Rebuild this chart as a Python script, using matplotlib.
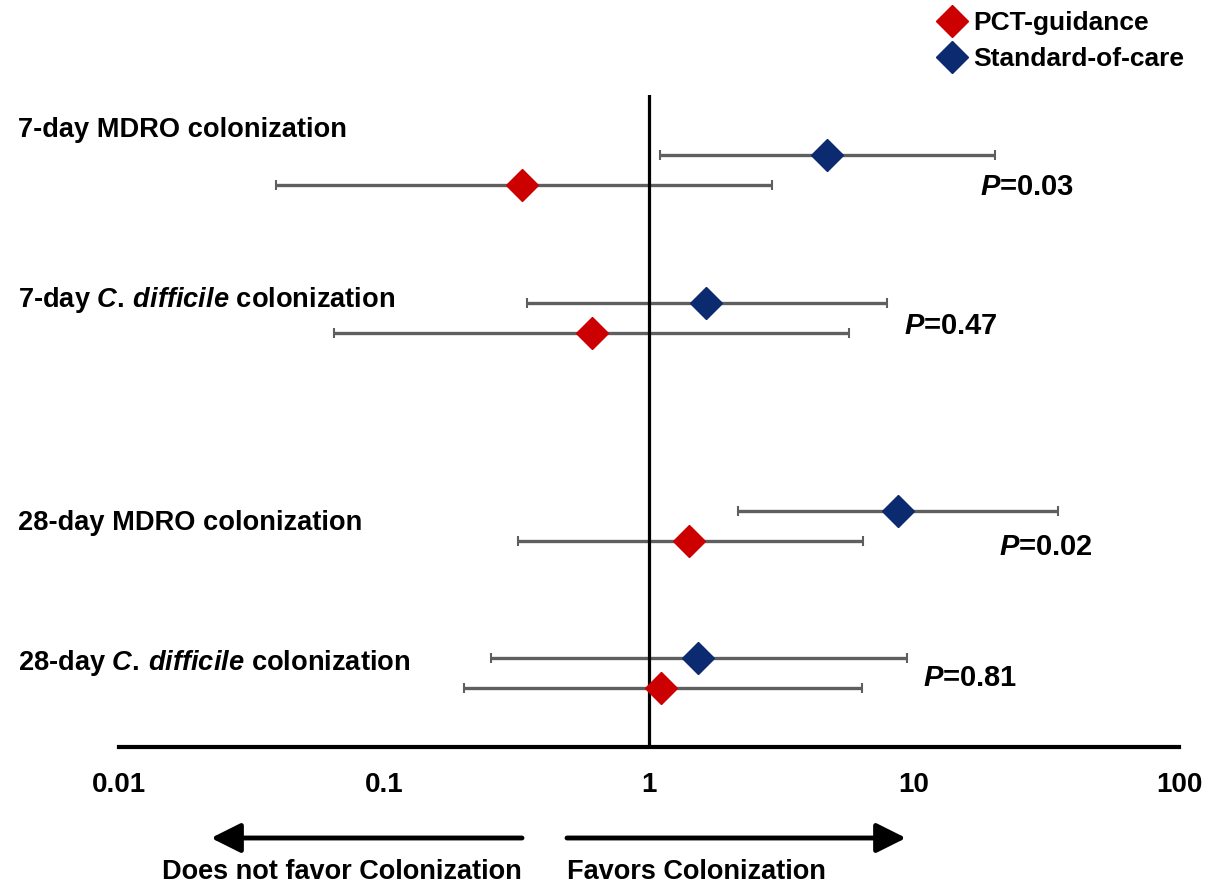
import matplotlib
matplotlib.use("Agg")
import matplotlib.pyplot as plt

# font setup: everything bold Arial-like, italic parts via mathtext
plt.rcParams['font.family'] = ['Liberation Sans', 'DejaVu Sans']
plt.rcParams['font.weight'] = 'bold'
plt.rcParams['mathtext.fontset'] = 'custom'
plt.rcParams['mathtext.rm'] = 'Liberation Sans:bold'
plt.rcParams['mathtext.it'] = 'Liberation Sans:italic:bold'
plt.rcParams['mathtext.bf'] = 'Liberation Sans:bold'

# data (odds ratios with 95% CI)
outcomes = ["7-day MDRO colonization",
            r"7-day $\mathit{C.\,difficile}$ colonization",
            "28-day MDRO colonization",
            r"28-day $\mathit{C.\,difficile}$ colonization"]
pct_or = [0.333, 0.61, 1.42, 1.11]
pct_lo = [0.039, 0.065, 0.32, 0.20]
pct_hi = [2.9, 5.7, 6.4, 6.35]
soc_or = [4.7, 1.64, 8.7, 1.53]
soc_lo = [1.10, 0.345, 2.17, 0.254]
soc_hi = [20.3, 7.9, 34.8, 9.4]
p_values = ["0.03", "0.47", "0.02", "0.81"]
tick_vals = [0.01, 0.1, 1, 10, 100]
tick_labels = ["0.01", "0.1", "1", "10", "100"]

# layout (pixel units of the 1211x893 picture)
W, H = 1211, 893
row_center = [170, 318, 526, 673]
row_gap = 15
label_y = [130, 300, 523, 663]
p_xy = [(980, 187), (904, 326), (999, 547), (923, 678)]

red = '#cc0000'
navy = '#0b2a6f'
grey = '#5f5f5f'


def fig_frac(x, y):
    return x / W, 1 - y / H


fig = plt.figure(figsize=(W / 100, H / 100), dpi=100)
ax = fig.add_axes([119 / W, (H - 747) / H, 1060 / W, 652 / H])
ax.set_xscale('log')
ax.set_xlim(0.01, 100)
ax.set_ylim(747, 95)

y_soc = [c - row_gap for c in row_center]
y_pct = [c + row_gap for c in row_center]

# confidence intervals
ax.errorbar(soc_or, y_soc,
            xerr=[[o - l for o, l in zip(soc_or, soc_lo)], [h - o for o, h in zip(soc_or, soc_hi)]],
            fmt='none', ecolor=grey, elinewidth=2.4, capsize=3.5, capthick=1.5, zorder=2)
ax.errorbar(pct_or, y_pct,
            xerr=[[o - l for o, l in zip(pct_or, pct_lo)], [h - o for o, h in zip(pct_or, pct_hi)]],
            fmt='none', ecolor=grey, elinewidth=2.4, capsize=3.5, capthick=1.5, zorder=2)

ax.axvline(1, color='black', lw=2.3, zorder=3)

ax.plot(pct_or, y_pct, ls='none', marker='D', ms=16, color=red, mec=red, label='PCT-guidance', zorder=4)
ax.plot(soc_or, y_soc, ls='none', marker='D', ms=16, color=navy, mec=navy, label='Standard-of-care', zorder=4)

# axes styling
for s in ['top', 'right', 'left']:
    ax.spines[s].set_visible(False)
ax.spines['bottom'].set_linewidth(3)
ax.set_yticks([])
ax.set_xticks(tick_vals)
ax.set_xticklabels(tick_labels, fontsize=20, fontweight='bold')
ax.xaxis.set_minor_locator(matplotlib.ticker.NullLocator())
ax.tick_params(axis='x', length=0, pad=18)

# row labels
for lab, ly in zip(outcomes, label_y):
    fig.text(*fig_frac(18, ly), lab, fontsize=19.6, fontweight='bold', va='center', ha='left')

# p values
for p, (px, py) in zip(p_values, p_xy):
    fig.text(*fig_frac(px, py), r"$\mathit{P}$=" + p, fontsize=21, fontweight='bold', va='center', ha='left')

# direction arrows
arrow_kw = dict(arrowstyle='-|>,head_length=0.9,head_width=0.45', lw=3.5, color='black',
                shrinkA=0, shrinkB=0)
fig.add_artist(matplotlib.patches.FancyArrowPatch(fig_frac(522, 838), fig_frac(211, 838),
                                                  transform=fig.transFigure, mutation_scale=20, **arrow_kw))
fig.add_artist(matplotlib.patches.FancyArrowPatch(fig_frac(567, 838), fig_frac(906, 838),
                                                  transform=fig.transFigure, mutation_scale=20, **arrow_kw))
fig.text(*fig_frac(522, 872), "Does not favor Colonization", fontsize=19.5, fontweight='bold', ha='right', va='center')
fig.text(*fig_frac(567, 872), "Favors Colonization", fontsize=19.5, fontweight='bold', ha='left', va='center')

# legend
ax.legend(loc='upper left', bbox_to_anchor=fig_frac(926, -2), bbox_transform=fig.transFigure,
          frameon=False, borderpad=0, handlelength=1.0, handletextpad=0.3, labelspacing=0.45,
          markerscale=1.0, prop={'size': 19, 'weight': 'bold'})

fig.savefig('out.png', dpi=100, facecolor='white')
